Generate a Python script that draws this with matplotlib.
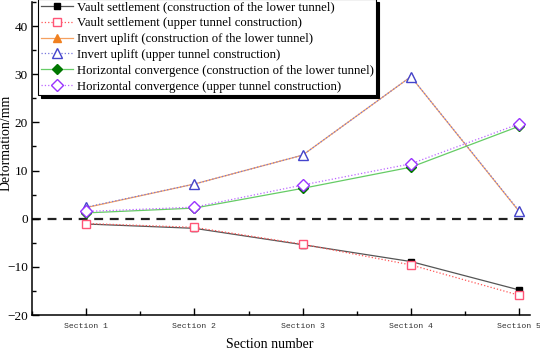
import matplotlib
matplotlib.use("Agg")
import matplotlib.pyplot as plt
from matplotlib.ticker import MultipleLocator

sections = ["Section 1", "Section 2", "Section 3", "Section 4", "Section 5"]
vault_lower = [-1.1, -2.0, -5.4, -8.9, -14.8]
vault_upper = [-1.0, -1.8, -5.3, -9.6, -15.9]
invert_lower = [2.3, 7.2, 13.2, 29.5, 1.5]
invert_upper = [2.4, 7.2, 13.2, 29.5, 1.6]
horiz_lower = [1.2, 2.2, 6.3, 10.7, 19.2]
horiz_upper = [1.5, 2.4, 7.0, 11.4, 19.7]

labels = [
    "Vault settlement (construction of the lower tunnel)",
    "Vault settlement (upper tunnel construction)",
    "Invert uplift (construction of the lower tunnel)",
    "Invert uplift (upper tunnel construction)",
    "Horizontal convergence (construction of the lower tunnel)",
    "Horizontal convergence (upper tunnel construction)",
]

plt.rcParams['font.family'] = ['Liberation Serif', 'DejaVu Serif']

fig = plt.figure(figsize=(5.4, 3.5), dpi=100)
W = 530 - 32
H = 313
ax = fig.add_axes([32/540, 35/350, W/540, H/350])

x = list(range(1, len(sections) + 1))
ax.plot([0.5, 5.05], [0, 0], color='#222222', lw=1.6, ls=(0, (4, 3)), zorder=1)

ax.plot(x, vault_lower, color='#555555', lw=0.9, marker='s', ms=5,
        mfc='black', mec='black', label=labels[0], zorder=3)
ax.plot(x, vault_upper, color='#ff5555', lw=0.9, ls=':', marker='s', ms=6,
        mfc='white', mec='#ff5577', label=labels[1], zorder=4)
ax.plot(x, invert_lower, color='#f5a060', lw=0.9, marker='^', ms=6,
        mfc='#f08020', mec='#f08020', label=labels[2], zorder=3)
ax.plot(x, invert_upper, color='#7777dd', lw=0.9, ls=':', marker='^', ms=7,
        mfc='white', mec='#4444cc', label=labels[3], zorder=4)
ax.plot(x, horiz_lower, color='#66cc66', lw=0.9, marker='D', ms=5,
        mfc='#007700', mec='#007700', label=labels[4], zorder=3)
ax.plot(x, horiz_upper, color='#bb66ff', lw=0.9, ls=':', marker='D', ms=6,
        mfc='white', mec='#9933ff', label=labels[5], zorder=4)

ax.set_xlim(0.5, 5.1)
ax.set_ylim(-20, 45)
ax.set_xticks(x)
ax.set_xticklabels(sections, family=['Liberation Mono', 'DejaVu Sans Mono'], fontsize=5.9, color='#333333')
ax.xaxis.set_minor_locator(MultipleLocator(0.5))
ax.yaxis.set_major_locator(MultipleLocator(10))
ax.yaxis.set_minor_locator(MultipleLocator(5))
ax.tick_params(axis='both', which='major', direction='in', length=5, width=1)
ax.tick_params(axis='both', which='minor', direction='in', length=3, width=1)
ax.tick_params(axis='y', labelsize=9.5, pad=3)
ax.tick_params(axis='x', pad=6)
for s in ['top', 'right']:
    ax.spines[s].set_visible(False)
for s in ['left', 'bottom']:
    ax.spines[s].set_linewidth(1.1)

ax.set_xlabel("Section number", fontsize=10)
ax.xaxis.set_label_coords((270 - 32) / W, -(338 - 315) / H)
ax.set_ylabel("Deformation/mm", fontsize=10)
ax.yaxis.set_label_coords(-(32 - 13) / W, (315 - 143) / H)

leg = ax.legend(loc='upper left', bbox_to_anchor=(6 / W, 1.01), fontsize=9.2,
                frameon=True, fancybox=False, edgecolor='black', framealpha=1,
                shadow={'color': 'black', 'alpha': 1}, handlelength=2.5,
                borderpad=0.2, labelspacing=0.3, handletextpad=0.35, borderaxespad=0)
leg.get_frame().set_linewidth(0.8)

fig.savefig("out.png", dpi=100)
